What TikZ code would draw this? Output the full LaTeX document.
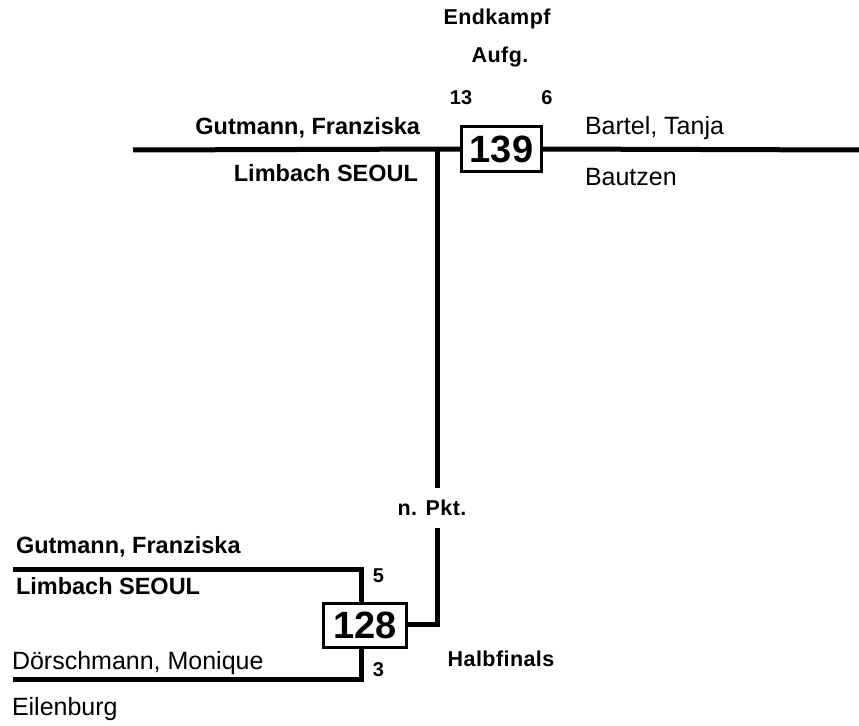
\documentclass[tikz,border=0pt]{standalone}
\usepackage{fontspec}
\setmainfont{Liberation Sans}
\newfontfamily\lsfont[LetterSpace=2.0]{Liberation Sans}
\begin{document}
\begin{tikzpicture}[x=1bp,y=-1bp,
  every node/.style={inner sep=0pt, outer sep=0pt},
  bracketline/.style={line width=5bp, black},
  matchbox/.style={draw, line width=3bp, minimum width=80bp, minimum height=45bp,
    font=\fontsize{38bp}{40bp}\selectfont\bfseries},
  namebold/.style={font=\fontsize{23.5bp}{28bp}\selectfont\bfseries},
  namereg/.style={font=\fontsize{25bp}{28bp}\selectfont},
  smalllbl/.style={font=\lsfont\fontsize{21.5bp}{24bp}\selectfont\bfseries},
  scorelbl/.style={font=\fontsize{20bp}{22bp}\selectfont\bfseries}]
\useasboundingbox (0,0) rectangle (859,726);

% match boxes
\node[matchbox] (m139) at (501.5,149) {139};
\node[matchbox, minimum width=83bp, minimum height=44bp] (m128) at (365,625.5) {128};

% labels top
\node[smalllbl, anchor=base] (endk) at (497,25) {Endkampf};
\node[smalllbl, anchor=base] (aufg) at (500,63) {Aufg.};
\node[scorelbl, anchor=base] (s13) at (461,105) {13};
\node[scorelbl, anchor=base] (s6) at (547,105) {6};
\node[namebold, anchor=base east] (gut1) at (420,135) {Gutmann, Franziska};
\node[namebold, anchor=base east] (lim1) at (418,181) {Limbach SEOUL};
\node[namereg, anchor=base west] (bar) at (585,135) {Bartel, Tanja};
\node[namereg, anchor=base west] (bau) at (585,185) {Bautzen};

% middle
\node[smalllbl, anchor=base] (npkt) at (432,515) {n. Pkt.};
\node[smalllbl, anchor=base] (halb) at (501,666) {Halbfinals};

% bottom labels
\node[namebold, anchor=base west] (gut2) at (16,553) {Gutmann, Franziska};
\node[namebold, anchor=base west] (lim2) at (16,594) {Limbach SEOUL};
\node[namereg, anchor=base west] (doe) at (12,669) {Dörschmann, Monique};
\node[namereg, anchor=base west] (eil) at (12,715) {Eilenburg};
\node[scorelbl, anchor=base] (s5) at (378.5,582) {5};
\node[scorelbl, anchor=base] (s3) at (378.5,676) {3};

% coordinates
\coordinate (topL) at (133,150);
\coordinate (topR) at (859,150);
\coordinate (junc) at (437,150);
\coordinate (gapT) at (437,488);
\coordinate (gapB) at (437,528);
\coordinate (elbow) at (437,624.5);
\coordinate (upL) at (13,569.5);
\coordinate (upC) at (361.5,569.5);
\coordinate (loL) at (13,679);
\coordinate (loC) at (361.5,679);

% connectors
\draw[bracketline] (topL) -- (m139.west);
\draw[bracketline] (m139.east) -- (topR);
\draw[bracketline] (junc) -- (gapT);
\draw[bracketline] (gapB) -- (elbow) -- (elbow -| m128.east);
\draw[bracketline] (upL) -- (upC) -- (upC |- m128.north);
\draw[bracketline] (loL) -- (loC) -- (loC |- m128.south);
\end{tikzpicture}
\end{document}
